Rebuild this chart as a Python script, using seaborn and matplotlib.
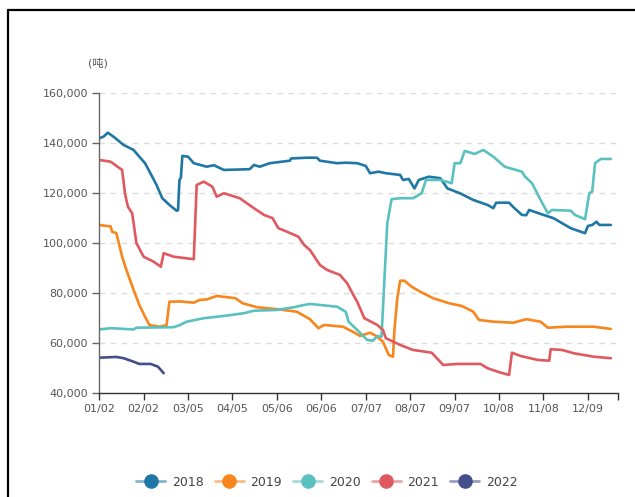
import matplotlib
matplotlib.use("Agg")
import matplotlib.pyplot as plt
import seaborn as sns
import pandas as pd
from matplotlib.lines import Line2D
from matplotlib.ticker import FuncFormatter, FixedLocator
import matplotlib.colors as mcolors

# ---------------- data (day index from 01/02, value in 吨) ----------------
years = ["2018", "2019", "2020", "2021", "2022"]
colors = ["#1f77a6", "#f7861c", "#5bc0c0", "#e0595f", "#434e8b"]

tick_days = [0, 31, 62, 93, 124, 155, 186, 217, 248, 279, 310, 341]
tick_labels = ["01/02", "02/02", "03/05", "04/05", "05/06", "06/06",
               "07/07", "08/07", "09/07", "10/08", "11/08", "12/09"]

day_2018 = [0, 3, 6, 10, 17, 24, 28, 32, 37, 40, 44, 49, 54, 55, 56, 57, 58, 62, 66, 75, 80,
            87, 105, 108, 112, 119, 133, 134, 145, 152, 154, 166, 172, 180, 186, 189, 195,
            200, 210, 212, 216, 220, 223, 230, 238, 243, 252, 261, 271, 275, 277, 286, 289,
            295, 298, 300, 308, 317, 329, 339, 341, 344, 347, 349, 357]
val_2018 = [141800, 142400, 144000, 142400, 139100, 137100, 134400, 131800, 126400, 123100,
            117800, 115100, 112800, 113000, 125100, 126000, 134700, 134400, 131800, 130400,
            131000, 129100, 129400, 131100, 130400, 131800, 132800, 133700, 134000, 134000,
            132800, 131800, 132000, 131800, 130700, 127800, 128400, 127800, 127100, 125100,
            125500, 121700, 125100, 126400, 125800, 121700, 119700, 117100, 115100, 113800,
            116000, 116000, 114200, 111100, 111000, 113100, 111500, 109800, 105800, 103800,
            106700, 107100, 108400, 107100, 107100]

day_2019 = [0, 8, 9, 12, 16, 19, 24, 28, 32, 35, 42, 47, 49, 57, 66, 70, 75, 82, 95, 100,
            110, 124, 138, 147, 153, 157, 170, 177, 182, 189, 193, 198, 202, 205, 206, 208,
            210, 213, 218, 224, 233, 244, 253, 261, 265, 275, 289, 298, 308, 313, 326, 345, 357]
val_2019 = [107100, 106500, 104400, 103800, 94400, 89100, 81100, 75100, 70400, 67100, 66400,
            67000, 76400, 76500, 76000, 77100, 77300, 78700, 77800, 75800, 74200, 73400, 72400,
            69400, 65800, 67100, 66400, 64400, 62700, 64000, 62800, 60400, 55100, 54400, 65100,
            77800, 84800, 84800, 82400, 80400, 77800, 75800, 74700, 72400, 69100, 68400, 68000,
            69400, 68400, 66000, 66400, 66400, 65500]

day_2020 = [0, 8, 24, 26, 52, 56, 61, 73, 87, 101, 108, 124, 136, 143, 147, 166, 172, 174,
            180, 187, 191, 194, 197, 199, 201, 204, 210, 219, 225, 228, 238, 246, 248, 252,
            255, 262, 268, 275, 283, 295, 297, 302, 308, 313, 316, 329, 332, 339, 342, 344,
            346, 350, 357]
val_2020 = [65300, 65800, 65300, 66000, 66200, 67000, 68400, 69800, 70700, 71800, 72800,
            73100, 74200, 75100, 75500, 74400, 72400, 68400, 65100, 61100, 60800, 62700,
            62400, 85100, 107700, 117400, 117800, 117800, 119800, 125100, 125100, 123800,
            131800, 131800, 136700, 135500, 137100, 134400, 130400, 128400, 126500, 123800,
            117100, 111800, 113100, 112800, 111100, 109400, 119800, 120500, 131800, 133500,
            133500]

day_2021 = [0, 8, 16, 18, 20, 23, 26, 31, 38, 43, 45, 52, 66, 68, 73, 79, 82, 87, 98, 108,
            115, 121, 125, 131, 139, 143, 147, 154, 159, 168, 173, 178, 180, 185, 194, 198,
            200, 210, 219, 232, 240, 250, 266, 271, 278, 286, 288, 294, 306, 314, 315, 323,
            331, 345, 357]
val_2021 = [133100, 132400, 129100, 119700, 114400, 111800, 99800, 94400, 92400, 90400,
            95800, 94400, 93400, 123100, 124400, 122400, 118400, 119800, 117800, 113800,
            111100, 109800, 105800, 104400, 102400, 99100, 97100, 91100, 89100, 87100, 83800,
            78400, 76400, 69800, 67100, 65100, 61800, 59100, 57100, 56000, 51100, 51500,
            51500, 49800, 48400, 47100, 56000, 54700, 53100, 52800, 57400, 57100, 55800,
            54400, 53800]

day_2022 = [0, 12, 17, 24, 28, 36, 41, 45]
val_2022 = [54000, 54300, 53800, 52400, 51500, 51500, 50400, 47800]

# ---------------- build long table ----------------
frames = []
for yr, d, v in zip(years,
                    [day_2018, day_2019, day_2020, day_2021, day_2022],
                    [val_2018, val_2019, val_2020, val_2021, val_2022]):
    frames.append(pd.DataFrame({"day": d, "value": v, "year": yr}))
df = pd.concat(frames, ignore_index=True)

# ---------------- figure ----------------
sns.set_theme(style="white")
plt.rcParams["font.family"] = ["DejaVu Sans", "Noto Sans CJK SC"]

W, H = 635, 497
fig = plt.figure(figsize=(W / 100, H / 100), dpi=100)
left, right, top, bottom = 99.2, 618.0, 92.7, 392.7
ax = fig.add_axes([left / W, 1 - bottom / H, (right - left) / W, (bottom - top) / H])

sns.lineplot(data=df, x="day", y="value", hue="year", palette=dict(zip(years, colors)),
             estimator=None, sort=False, legend=False, linewidth=1.9, ax=ax)

ax.set_xlim(0, 362)
ax.set_ylim(40000, 160000)
ax.set_xlabel("")
ax.set_ylabel("")

ax.xaxis.set_major_locator(FixedLocator(tick_days))
ax.set_xticklabels(tick_labels)
ax.xaxis.set_minor_locator(FixedLocator([362]))
ax.set_yticks(range(40000, 160001, 20000))
ax.yaxis.set_major_formatter(FuncFormatter(lambda v, p: f"{int(v):,}"))

for y in range(60000, 160001, 20000):
    ax.axhline(y, color="#dcdcdc", lw=1.0, ls=(0, (4, 4)), zorder=0)

for s in ["top", "right"]:
    ax.spines[s].set_visible(False)
ax.spines["left"].set_color("#666666")
ax.spines["bottom"].set_color("#333333")
ax.spines["left"].set_linewidth(1.0)
ax.spines["bottom"].set_linewidth(1.0)

ax.tick_params(axis="x", which="both", direction="out", length=5, width=1.0,
               color="#333333", labelcolor="#555555", labelsize=8, pad=3, bottom=True)
ax.tick_params(axis="y", direction="out", length=5, width=1.0, color="#666666",
               labelcolor="#555555", labelsize=8, pad=3, left=True)

fig.text(98 / W, 1 - 63 / H, "(吨)", ha="center", va="center", fontsize=8, color="#555555")

# ---------------- legend ----------------
handles = []
for c in colors:
    light = mcolors.to_rgb(c)
    light = tuple(0.55 * x + 0.45 for x in light)
    handles.append(Line2D([0], [0], color=light, lw=2.0, marker="o", markersize=9.5,
                          markerfacecolor=c, markeredgecolor=c))
fig.legend(handles, years, loc="center", bbox_to_anchor=(327 / W, 1 - 482 / H), ncol=5,
           frameon=False, fontsize=9, handlelength=2.3, handletextpad=0.55,
           columnspacing=0.9, labelcolor="#444444")

# ---------------- outer frame lines ----------------
fig.add_artist(Line2D([7.5 / W, 7.5 / W], [0, 1 - 10 / H], transform=fig.transFigure,
                      color="black", lw=1.6))
fig.add_artist(Line2D([7.5 / W, 1], [1 - 10 / H, 1 - 10 / H], transform=fig.transFigure,
                      color="black", lw=1.6))

fig.savefig("out.png", dpi=100)
